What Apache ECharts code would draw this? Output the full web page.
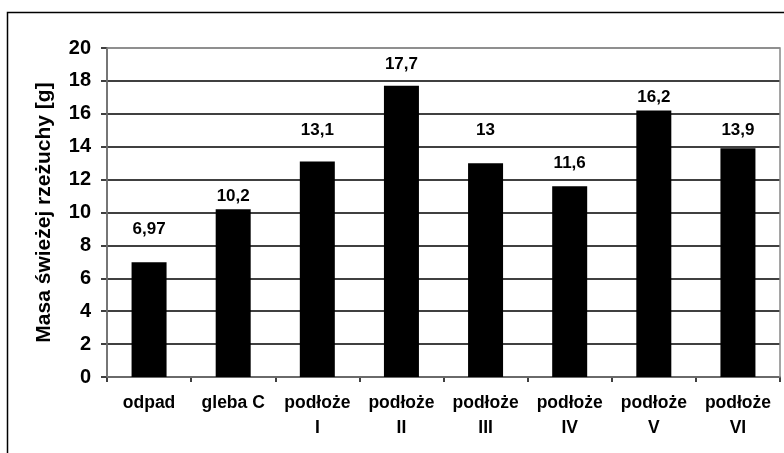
<!DOCTYPE html>
<html>
<head>
<meta charset="utf-8">
<script src="https://cdn.jsdelivr.net/npm/echarts@6/dist/echarts.min.js"></script>
<style>html,body{margin:0;padding:0;background:#fff}#c{width:784px;height:453px}</style>
</head>
<body>
<div id="c"></div>
<script>
var categories = ['odpad', 'gleba C', 'podłoże\nI', 'podłoże\nII', 'podłoże\nIII', 'podłoże\nIV', 'podłoże\nV', 'podłoże\nVI'];
var values = [6.97, 10.2, 13.1, 17.7, 13, 11.6, 16.2, 13.9];
var valueLabels = ['6,97', '10,2', '13,1', '17,7', '13', '11,6', '16,2', '13,9'];
var yTicks = [0, 2, 4, 6, 8, 10, 12, 14, 16, 18, 20];
var yTitle = 'Masa świeżej rzeżuchy [g]';

var chart = echarts.init(document.getElementById('c'));
var font = 'Liberation Sans, Arial, sans-serif';
var labelSize = 17;
var gridColors = yTicks.map(function (v, i) { return i === yTicks.length - 1 ? '#888' : '#000'; });

function buildOption(distances) {
  return {
    animation: false,
    graphic: [{
      type: 'rect', z: 100,
      shape: {x: 7.5, y: 12.5, width: 800, height: 500},
      style: {fill: 'none', stroke: '#000', lineWidth: 1.5}
    }, {
      type: 'rect', z: 1,
      shape: {x: 107, y: 48, width: 673, height: 329},
      style: {fill: 'none', stroke: '#888', lineWidth: 1.5}
    }],
    grid: {left: 107, right: 4, top: 48, bottom: 76, containLabel: false},
    xAxis: {
      type: 'category',
      data: categories,
      axisLine: {show: true, lineStyle: {color: '#000', width: 1.5}},
      axisTick: {show: true, alignWithLabel: false, length: 5, lineStyle: {color: '#000', width: 1.5}},
      axisLabel: {color: '#000', fontFamily: font, fontWeight: 'bold', fontSize: 17.5, lineHeight: 25, margin: 14, interval: 0}
    },
    yAxis: {
      type: 'value',
      min: 0, max: 20, interval: 2,
      name: yTitle,
      nameLocation: 'middle',
      nameRotate: 90,
      nameGap: 52,
      nameTextStyle: {color: '#000', fontFamily: font, fontWeight: 'bold', fontSize: 21},
      axisLine: {show: true, lineStyle: {color: '#000', width: 1.5}},
      axisTick: {show: true, length: 6, lineStyle: {color: '#000', width: 1.5}},
      axisLabel: {color: '#000', fontFamily: font, fontWeight: 'bold', fontSize: 20, margin: 16,
        formatter: function (v) { return yTicks.indexOf(v) >= 0 ? String(v) : ''; }},
      splitLine: {show: true, lineStyle: {color: gridColors, width: 1.5}}
    },
    series: [{
      type: 'bar',
      data: values.map(function (v, i) {
        return {value: v, label: {distance: distances ? distances[i] : 16}};
      }),
      barWidth: 35,
      itemStyle: {color: '#000'},
      label: {
        show: true, position: 'top',
        color: '#000', fontFamily: font, fontWeight: 'bold', fontSize: labelSize,
        formatter: function (p) { return valueLabels[p.dataIndex]; }
      }
    }]
  };
}

chart.setOption(buildOption(null));
// Labels sit centred in the first gridline band above each bar's top.
var distances = values.map(function (v) {
  var step = 2;
  var bandBottom = Math.ceil((v - 0.3) / step) * step;
  var center = bandBottom + step / 2;
  var yTop = chart.convertToPixel({yAxisIndex: 0}, v);
  var yC = chart.convertToPixel({yAxisIndex: 0}, center);
  return Math.max(2, yTop - yC - labelSize / 2);
});
chart.setOption(buildOption(distances));
</script>
</body>
</html>
